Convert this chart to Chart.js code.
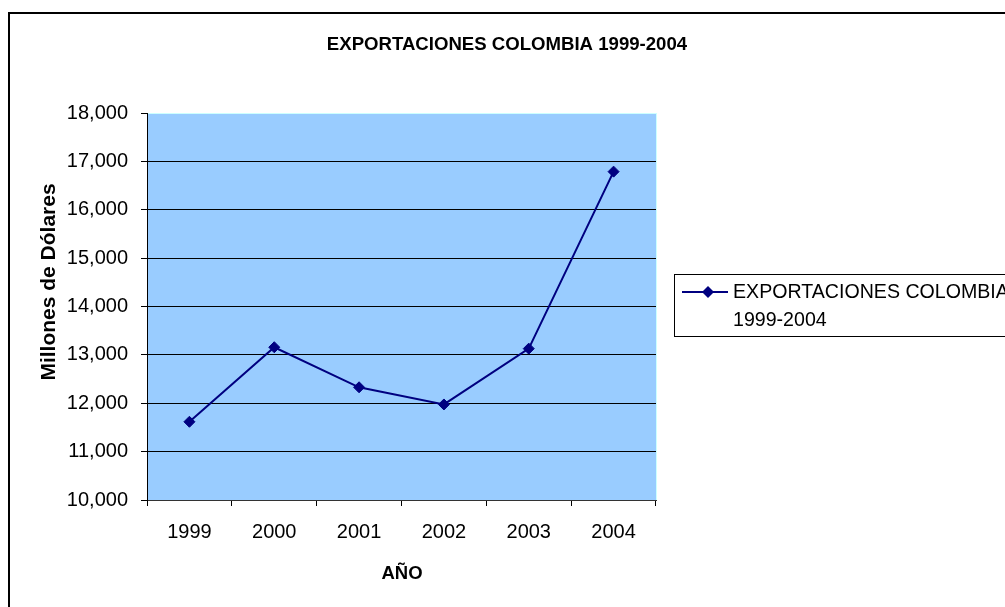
<!DOCTYPE html>
<html>
<head>
<meta charset="utf-8">
<script src="https://cdn.jsdelivr.net/npm/chart.js@4"></script>
<style>
  html, body { margin: 0; padding: 0; background: #fff; }
  canvas { display: block; }
</style>
</head>
<body>
<canvas id="c" width="1005" height="607"></canvas>
<script>
const chartTitle = "EXPORTACIONES COLOMBIA 1999-2004";
const xAxisTitle = "AÑO";
const yAxisTitle = "Millones de Dólares";
const seriesLabel = "EXPORTACIONES COLOMBIA 1999-2004";
const categories = ["1999", "2000", "2001", "2002", "2003", "2004"];
const exportValues = [11617, 13158, 12330, 11975, 13129, 16788];
const yMin = 10000, yMax = 18000, yStep = 1000;

const FONT = "'Liberation Sans', Arial, sans-serif";

const decorPlugin = {
  id: 'decor',
  beforeDraw(chart) {
    const ctx = chart.ctx, a = chart.chartArea;
    ctx.save();
    ctx.fillStyle = '#ffffff';
    ctx.fillRect(0, 0, chart.width, chart.height);
    ctx.fillStyle = '#99CCFF';
    ctx.fillRect(a.left, a.top, a.right - a.left, a.bottom - a.top);
    ctx.fillStyle = '#CCFFFF';
    ctx.fillRect(a.right, a.top, 1, a.bottom - a.top);
    ctx.restore();
  },
  afterDraw(chart) {
    const ctx = chart.ctx;
    ctx.save();
    // outer frame
    ctx.strokeStyle = '#000';
    ctx.lineWidth = 2;
    ctx.strokeRect(9, 13, 1100, 700);
    // title
    ctx.fillStyle = '#000';
    ctx.textAlign = 'center';
    ctx.textBaseline = 'middle';
    ctx.font = "bold 18.6px " + FONT;
    ctx.fillText(chartTitle, 507, 45);
    // x title
    ctx.font = "bold 18.5px " + FONT;
    ctx.fillText(xAxisTitle, 402, 574);
    // y title
    ctx.save();
    ctx.translate(49, 282);
    ctx.rotate(-Math.PI / 2);
    ctx.font = "bold 21px " + FONT;
    ctx.fillText(yAxisTitle, 0, 0);
    ctx.restore();
    // legend
    ctx.fillStyle = '#fff';
    ctx.fillRect(674.5, 274.5, 400, 62);
    ctx.strokeStyle = '#000';
    ctx.lineWidth = 1;
    ctx.strokeRect(674.5, 274.5, 400, 62);
    const ds = chart.data.datasets[0];
    ctx.strokeStyle = ds.borderColor;
    ctx.lineWidth = 2;
    ctx.beginPath();
    ctx.moveTo(682, 292);
    ctx.lineTo(728, 292);
    ctx.stroke();
    ctx.fillStyle = ds.backgroundColor;
    ctx.beginPath();
    ctx.moveTo(708, 286);
    ctx.lineTo(714, 292);
    ctx.lineTo(708, 298);
    ctx.lineTo(702, 292);
    ctx.closePath();
    ctx.fill();
    const label = ds.label;
    const cut = label.lastIndexOf(' ');
    ctx.fillStyle = '#000';
    ctx.textAlign = 'left';
    ctx.font = "19.6px " + FONT;
    ctx.fillText(label.slice(0, cut), 733, 293);
    ctx.fillText(label.slice(cut + 1), 733, 321);
    ctx.restore();
  }
};

new Chart(document.getElementById('c'), {
  type: 'line',
  data: {
    labels: categories,
    datasets: [{
      label: seriesLabel,
      data: exportValues,
      borderColor: '#000080',
      backgroundColor: '#000080',
      borderWidth: 2,
      pointStyle: 'rectRot',
      pointRadius: 5.5,
      pointBorderWidth: 1,
      pointBackgroundColor: '#000080',
      pointBorderColor: '#000080',
      tension: 0
    }]
  },
  options: {
    responsive: false,
    animation: false,
    events: [],
    layout: { padding: { left: 30, top: 113, right: 349, bottom: 0 } },
    plugins: {
      legend: { display: false },
      title: { display: false },
      tooltip: { enabled: false }
    },
    scales: {
      x: {
        type: 'category',
        offset: true,
        afterFit: s => { s.height = 107; },
        grid: { offset: true, drawOnChartArea: false, tickLength: 6, color: '#000', tickColor: '#000' },
        border: { display: true, color: '#333', width: 1 },
        ticks: { color: '#000', font: { family: FONT, size: 20 }, padding: 14, maxRotation: 0 }
      },
      y: {
        min: yMin,
        max: yMax,
        afterFit: s => { s.width = 117; },
        ticks: {
          stepSize: yStep,
          color: '#000',
          padding: 13,
          font: { family: FONT, size: 20 },
          callback: v => Number(v).toLocaleString('en-US')
        },
        grid: {
          tickLength: 6,
          tickColor: '#000',
          color: c => (c.tick && c.tick.value === yMax) ? '#CCFFFF' : '#000',
          lineWidth: 1
        },
        border: { display: true, color: '#000', width: 1 }
      }
    }
  },
  plugins: [decorPlugin]
});
</script>
</body>
</html>
